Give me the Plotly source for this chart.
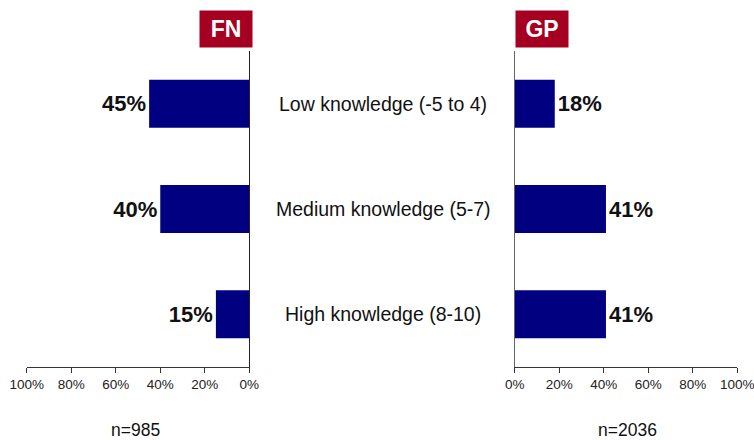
import plotly.graph_objects as go

categories = ["Low knowledge (-5 to 4)", "Medium knowledge (5-7)", "High knowledge (8-10)"]
fn_values = [45, 40, 15]
gp_values = [18, 41, 41]
tick_vals = [0, 20, 40, 60, 80, 100]
tick_text = ["0%", "20%", "40%", "60%", "80%", "100%"]
panel_titles = ["FN", "GP"]
sample_sizes = ["n=985", "n=2036"]

W, H = 754, 440
NAVY = "#000080"
RED = "#A50021"
FONT = "Liberation Sans, Arial, sans-serif"
NARROW = "Liberation Sans Narrow, Arial Narrow, Liberation Sans, sans-serif"


def px(x):
    return x / W


def py(y):
    return 1 - y / H


fig = go.Figure()
fig.add_trace(go.Bar(
    y=categories, x=fn_values, orientation="h", xaxis="x", yaxis="y",
    marker=dict(color=NAVY, line=dict(width=0)),
    text=[f"<b>{v}%</b>" for v in fn_values], textposition="outside",
    textfont=dict(family=FONT, size=22, color="#111"), cliponaxis=False,
    hoverinfo="skip",
))
fig.add_trace(go.Bar(
    y=categories, x=gp_values, orientation="h", xaxis="x2", yaxis="y2",
    marker=dict(color=NAVY, line=dict(width=0)),
    text=[f"<b>{v}%</b>" for v in gp_values], textposition="outside",
    textfont=dict(family=FONT, size=22, color="#111"), cliponaxis=False,
    hoverinfo="skip",
))

ydom = [py(367), py(51)]
xl = [px(26.7), px(249.3)]
xr = [px(514.7), px(737.3)]

axis_common = dict(
    tickvals=tick_vals, ticktext=tick_text, ticks="outside", ticklen=5,
    tickcolor="#333", showline=True, linecolor="#333", linewidth=1,
    showgrid=False, zeroline=False, fixedrange=True, automargin=False,
    ticklabeloverflow="allow",
    tickfont=dict(family=FONT, size=13.5, color="#222"),
)
yaxis_common = dict(
    domain=ydom, autorange="reversed", showticklabels=False, ticks="",
    showline=True, linewidth=1, showgrid=False, zeroline=False,
    fixedrange=True, automargin=False,
)
fig.update_layout(
    template="none",
    width=W, height=H, margin=dict(l=0, r=0, t=0, b=0, pad=0),
    paper_bgcolor="white", plot_bgcolor="white", showlegend=False,
    bargap=0.545,
    xaxis=dict(domain=xl, range=[100, 0], anchor="y", **axis_common),
    xaxis2=dict(domain=xr, range=[0, 100], anchor="y2", **axis_common),
    yaxis=dict(anchor="x", side="right", linecolor="#222", **yaxis_common),
    yaxis2=dict(anchor="x2", side="left", linecolor="#666", **yaxis_common),
)

annotations = []
for c in categories:
    annotations.append(dict(
        x=px(383), xref="paper", y=c, yref="y", text=c, showarrow=False,
        xanchor="center", yanchor="middle",
        font=dict(family=FONT, size=19.5, color="#111"),
    ))
for title, x0 in zip(panel_titles, [199, 515]):
    annotations.append(dict(
        x=px(x0), xref="paper", y=py(10), yref="paper", text=f"<b>{title}</b>",
        showarrow=False, xanchor="left", yanchor="top",
        width=52, height=36, bgcolor=RED, borderpad=0,
        font=dict(family=NARROW, size=23, color="white"), align="center", valign="middle",
    ))
for n, xc in zip(sample_sizes, [135, 627]):
    annotations.append(dict(
        x=px(xc), xref="paper", y=py(430), yref="paper", text=n, showarrow=False,
        xanchor="center", yanchor="middle",
        font=dict(family=FONT, size=17.5, color="#111"),
    ))
fig.update_layout(annotations=annotations)

fig.write_html(
    "out.html",
    config={"displayModeBar": False, "staticPlot": True},
    post_script="document.body.style.margin='0';document.body.style.overflow='hidden';",
)
